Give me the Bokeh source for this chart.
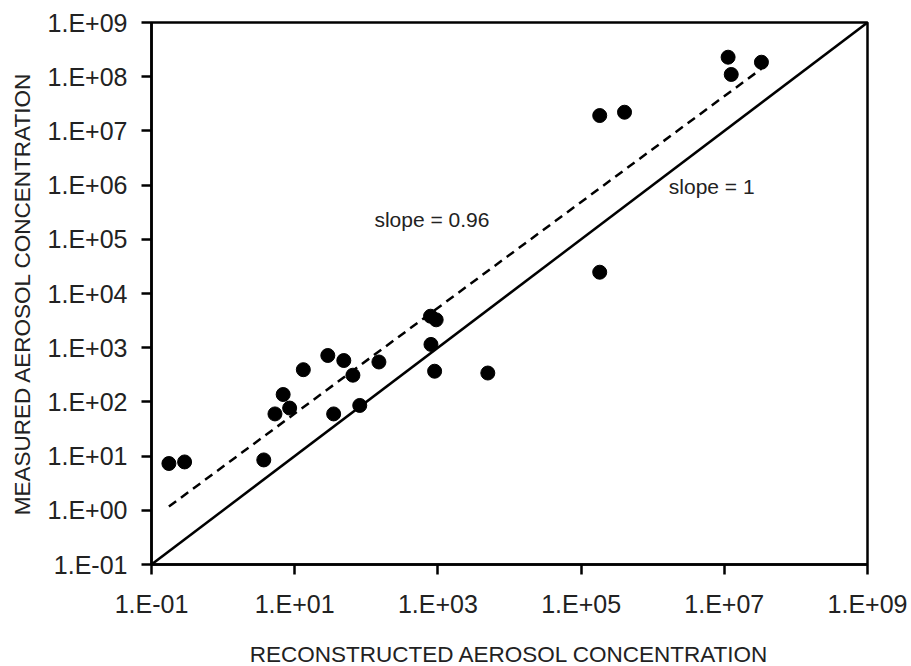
from bokeh.plotting import figure
from bokeh.models import Range1d, FixedTicker
from bokeh.core.properties import value
from bokeh.embed import file_html
from bokeh.resources import INLINE

# ---- data ----
reconstructed = [0.175, 0.29, 3.7, 5.3, 6.9, 8.5, 13.2, 29, 35, 48.5, 65, 81, 150,
                 790, 946, 800, 900, 4980, 1.82e5, 1.82e5, 4.04e5, 1.13e7, 1.25e7, 3.3e7]
measured = [7.3, 7.8, 8.5, 60, 137, 77, 393, 718, 60, 580, 311, 86, 545,
            3810, 3270, 1150, 368, 341, 2.47e4, 1.92e7, 2.21e7, 2.29e8, 1.1e8, 1.85e8]

one_to_one_x = [0.1, 1e9]
one_to_one_y = [0.1, 1e9]
fit_x = [0.175, 3.3e7]
fit_y = [1.17, 1.4e8]

note_x = [130, 1.68e6]
note_y = [2.3e5, 9.4e5]
note_text = ["slope = 0.96", "slope = 1"]

x_ticks = [1e-1, 1e1, 1e3, 1e5, 1e7, 1e9]
x_tick_labels = ["1.E-01", "1.E+01", "1.E+03", "1.E+05", "1.E+07", "1.E+09"]
y_ticks = [1e-1, 1e0, 1e1, 1e2, 1e3, 1e4, 1e5, 1e6, 1e7, 1e8, 1e9]
y_tick_labels = ["1.E-01", "1.E+00", "1.E+01", "1.E+02", "1.E+03", "1.E+04",
                 "1.E+05", "1.E+06", "1.E+07", "1.E+08", "1.E+09"]

x_title = "RECONSTRUCTED AEROSOL CONCENTRATION"
y_title = "MEASURED AEROSOL CONCENTRATION"

FONT = "Liberation Sans"
TXT = "#222222"

p = figure(frame_width=716, frame_height=542,
           x_axis_type="log", y_axis_type="log",
           x_range=Range1d(1e-1, 1e9), y_range=Range1d(1e-1, 1e9),
           output_backend="svg", toolbar_location=None,
           min_border_left=151, min_border_right=44,
           min_border_top=22, min_border_bottom=102)

p.background_fill_color = "white"
p.border_fill_color = "white"
p.outline_line_color = "black"
p.outline_line_width = 2.5
p.xgrid.grid_line_color = None
p.ygrid.grid_line_color = None

p.line(one_to_one_x, one_to_one_y, line_color="black", line_width=2.5)
p.line(fit_x, fit_y, line_color="black", line_width=2.5, line_dash="9 6")
p.scatter(reconstructed, measured, size=14, marker="circle",
          fill_color="black", line_color="black")

p.text(x=note_x, y=note_y, text=note_text, text_font=value(FONT),
       text_font_size="21px", text_color=TXT,
       text_align="left", text_baseline="middle")

for ax, ticks, labels in ((p.xaxis[0], x_ticks, x_tick_labels),
                          (p.yaxis[0], y_ticks, y_tick_labels)):
    ax.ticker = FixedTicker(ticks=ticks)
    ax.major_label_overrides = {t: l for t, l in zip(ticks, labels)}
    ax.minor_tick_line_color = None
    ax.major_tick_in = 0
    ax.major_tick_out = 10
    ax.major_tick_line_width = 2.5
    ax.major_tick_line_color = "black"
    ax.axis_line_color = "black"
    ax.axis_line_width = 2.5
    ax.major_label_text_font = FONT
    ax.major_label_text_font_size = "25px"
    ax.major_label_text_color = TXT
    ax.axis_label_text_font = FONT
    ax.axis_label_text_font_size = "22.5px"
    ax.axis_label_text_font_style = "normal"
    ax.axis_label_text_color = TXT

p.xaxis[0].axis_label = x_title
p.yaxis[0].axis_label = y_title
p.xaxis[0].major_label_standoff = 15
p.xaxis[0].axis_label_standoff = 21
p.yaxis[0].major_label_standoff = 14
p.yaxis[0].axis_label_standoff = 10

open("out.html", "w").write(file_html(p, INLINE))
